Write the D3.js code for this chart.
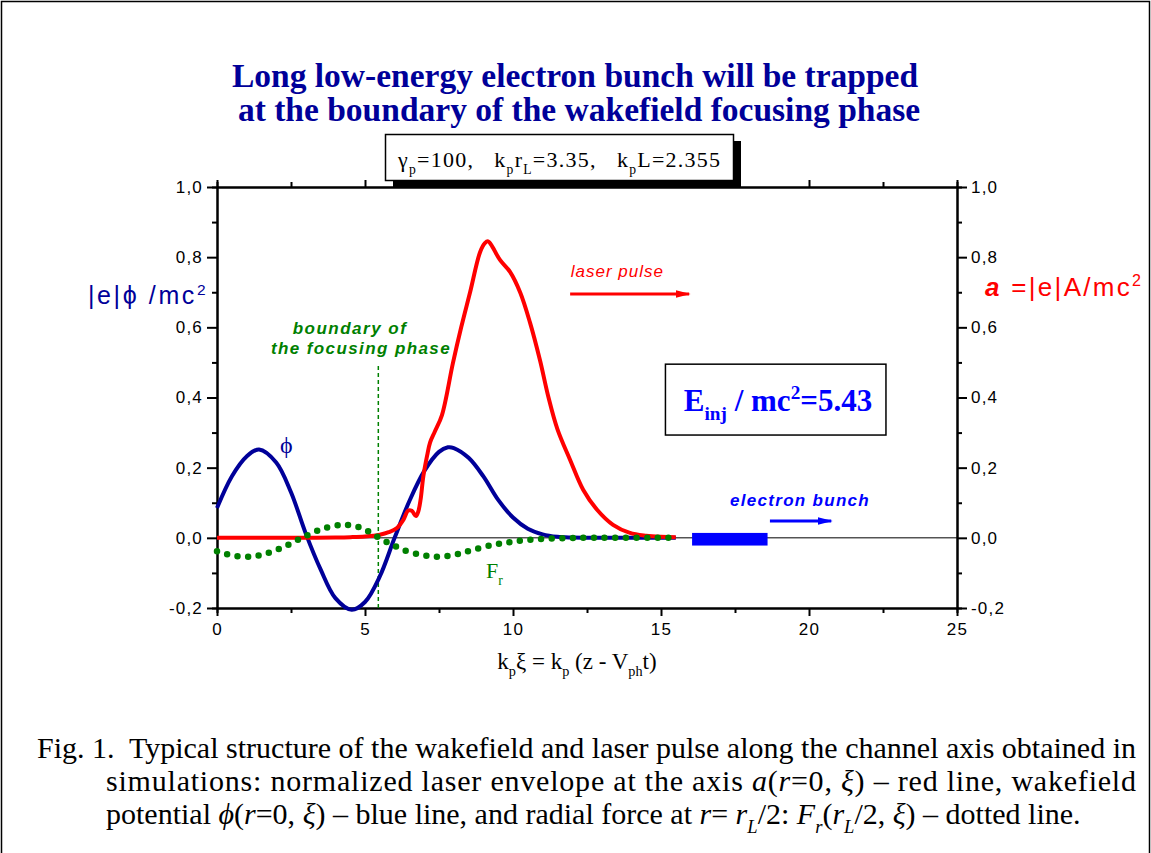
<!DOCTYPE html>
<html>
    <head>
        <meta charset="utf-8">
        <title>Wakefield focusing phase</title>
        <script src="https://d3js.org/d3.v7.min.js"></script>
        <style>
            body { margin:0; background:white; }
            svg { display:block; }
            .axis path, .axis line { stroke:black; stroke-width:2; }
            .axis text { font-family:"Liberation Sans", Arial, sans-serif; font-size:17px; letter-spacing:1.2px; fill:black; }
        </style>
    </head>
    <body>
        <svg id="chart" width="1151" height="853"></svg>
    </body>
    <script>

        // values
        const phiX   = [0, 0.5, 1.0, 1.42, 2.0, 2.5, 3.0, 3.5, 4.0, 4.55, 5.0, 5.5, 6.0, 6.5, 7.0, 7.5, 7.8, 8.0, 8.5, 9.0, 9.5, 10.0, 10.5, 11.0, 11.5, 12.0, 13.0, 14.0, 15.5];
        const phiVal = [0.085, 0.175, 0.232, 0.252, 0.215, 0.13, 0.012, -0.09, -0.172, -0.205, -0.183, -0.11, 0.0, 0.105, 0.19, 0.245, 0.258, 0.256, 0.228, 0.175, 0.108, 0.058, 0.026, 0.01, 0.003, 0.001, 0, 0, 0];

        const aX   = [0, 1, 2, 3, 4, 4.5, 5.0, 5.5, 5.8, 6.08, 6.3, 6.46, 6.58, 6.72, 6.8, 6.88, 6.97, 7.1, 7.2, 7.36, 7.6, 7.97, 8.25, 8.55, 8.89, 9.05, 9.16, 9.3, 9.56, 9.9, 10.24, 10.57, 10.91, 11.2, 11.5, 11.93, 12.37, 12.84, 13.38, 13.95, 14.5, 15.0, 15.5];
        const aVal = [0, 0, 0, 0, 0.001, 0.002, 0.004, 0.009, 0.016, 0.028, 0.052, 0.078, 0.077, 0.062, 0.075, 0.11, 0.175, 0.235, 0.272, 0.303, 0.35, 0.498, 0.6, 0.7, 0.815, 0.84, 0.845, 0.83, 0.792, 0.758, 0.7, 0.615, 0.507, 0.4, 0.31, 0.222, 0.137, 0.08, 0.037, 0.014, 0.006, 0.003, 0.002];

        const frX   = [0, 0.5, 1.08, 1.6, 2.2, 2.87, 3.5, 4.0, 4.32, 4.7, 5.07, 5.4, 5.78, 6.1, 6.46, 7.0, 7.53, 8.1, 8.65, 9.33, 10.0, 10.8, 11.7, 12.5, 15.5];
        const frVal = [-0.038, -0.05, -0.054, -0.046, -0.028, 0.0, 0.024, 0.035, 0.037, 0.033, 0.02, 0.004, -0.014, -0.027, -0.039, -0.05, -0.054, -0.047, -0.034, -0.02, -0.011, -0.004, -0.001, 0, 0];

        const xTicks = [0, 5, 10, 15, 20, 25];
        const xMinor = [2.5, 7.5, 12.5, 17.5, 22.5];
        const yTicks = [-0.2, 0, 0.2, 0.4, 0.6, 0.8, 1.0];
        const yMinor = [-0.1, 0.1, 0.3, 0.5, 0.7, 0.9];

        const boundaryX = 5.45;          // boundary of focusing phase
        const bunch = [16.05, 18.6];     // electron bunch extent
        const bunchY = [0.014, -0.022];
        const Einj = '5.43';

        const svg = d3.select('#chart');
        const x = d3.scaleLinear().domain([0, 25]).range([217, 957]);
        const y = d3.scaleLinear().domain([-0.2, 1.0]).range([608, 187]);

        const navy = '#000099', green = '#008000', red = '#ff0000', blue = '#0000ff';
        const serif = '"Liberation Serif", "Times New Roman", serif';
        const sans = '"Liberation Sans", Arial, sans-serif';

        // page frame
        svg.append('rect').attr('x', 1.5).attr('y', 1.5).attr('width', 1148).attr('height', 870)
            .style('fill', 'none').style('stroke', 'black').style('stroke-width', 1.5);

        // text with sub/superscripts and italics
        function rich(x0, y0, size, parts, opts) {
            const t = svg.append('text').attr('x', x0).attr('y', y0)
                .style('font-family', opts.font || serif).style('font-size', size + 'px')
                .style('fill', opts.fill || 'black')
                .style('font-weight', opts.bold ? 'bold' : 'normal')
                .style('white-space', 'pre')
                .attr('text-anchor', opts.anchor || 'start');
            if (opts.spacing) t.style('letter-spacing', opts.spacing + 'px');
            if (opts.length) t.attr('textLength', opts.length).attr('lengthAdjust', 'spacing');
            let shift = 0;
            parts.forEach(p => {
                if (typeof p === 'string') p = {t: p};
                const target = p.sub ? size * 0.3 : p.sup ? -size * 0.38 : 0;
                const s = t.append('tspan').attr('dy', target - shift).text(p.t);
                if (p.sub || p.sup) s.style('font-size', (size * 0.62) + 'px');
                if (p.it) s.style('font-style', 'italic');
                if (p.b) s.style('font-weight', 'bold');
                shift = target;
            });
            return t;
        }

        function label(x0, y0, txt, color, bold, spacing, anchor) {
            svg.append('text').attr('x', x0).attr('y', y0).attr('text-anchor', anchor || 'start')
                .style('font-family', sans).style('font-style', 'italic')
                .style('font-weight', bold ? 'bold' : 'normal').style('font-size', '17px')
                .style('letter-spacing', spacing + 'px').style('fill', color).text(txt);
        }

        // title
        svg.append('text').attr('x', 575).attr('y', 87).attr('text-anchor', 'middle')
            .style('font-family', serif).style('font-weight', 'bold').style('font-size', '33.5px').style('fill', navy)
            .text('Long low-energy electron bunch will be trapped');
        svg.append('text').attr('x', 579).attr('y', 121).attr('text-anchor', 'middle')
            .style('font-family', serif).style('font-weight', 'bold').style('font-size', '33.5px').style('fill', navy)
            .text('at the boundary of the wakefield focusing phase');

        // axes
        const fmt = v => (v < 0 ? '-' : '') + d3.format('.1f')(Math.abs(v)).replace('.', ',');

        svg.append('g').attr('class', 'axis').attr('transform', `translate(0,${y(-0.2)})`)
            .call(d3.axisBottom(x).tickValues(xTicks).tickSize(8).tickSizeOuter(0).tickPadding(7));
        svg.append('g').attr('class', 'axis').attr('transform', `translate(0,${y(-0.2)})`)
            .call(d3.axisBottom(x).tickValues(xMinor).tickSize(5).tickFormat(''));
        svg.append('g').attr('class', 'axis').attr('transform', `translate(0,${y(1.0)})`)
            .call(d3.axisBottom(x).tickValues(xTicks).tickSize(-7).tickSizeOuter(0).tickFormat(''));
        svg.append('g').attr('class', 'axis').attr('transform', `translate(0,${y(1.0)})`)
            .call(d3.axisBottom(x).tickValues(xMinor).tickSize(-5).tickFormat(''));

        svg.append('g').attr('class', 'axis').attr('transform', `translate(${x(0)},0)`)
            .call(d3.axisLeft(y).tickValues(yTicks).tickSize(10).tickSizeOuter(0).tickPadding(4).tickFormat(fmt));
        svg.append('g').attr('class', 'axis').attr('transform', `translate(${x(0)},0)`)
            .call(d3.axisLeft(y).tickValues(yMinor).tickSize(5).tickFormat(''));
        svg.append('g').attr('class', 'axis').attr('transform', `translate(${x(25)},0)`)
            .call(d3.axisRight(y).tickValues(yTicks).tickSize(10).tickSizeOuter(0).tickPadding(4).tickFormat(fmt));
        svg.append('g').attr('class', 'axis').attr('transform', `translate(${x(25)},0)`)
            .call(d3.axisRight(y).tickValues(yMinor).tickSize(5).tickFormat(''));

        // zero line
        svg.append('line').attr('x1', x(0)).attr('x2', x(25)).attr('y1', y(0)).attr('y2', y(0))
            .style('stroke', 'black').style('stroke-width', 1);

        // parameter box with shadow
        svg.append('rect').attr('x', 393).attr('y', 141).attr('width', 348).attr('height', 46).style('fill', 'black');
        svg.append('rect').attr('x', 385.5).attr('y', 134.5).attr('width', 348).attr('height', 46)
            .style('fill', 'white').style('stroke', 'black').style('stroke-width', 1.5);
        rich(398, 167, 22, ['\u03b3', {t: 'p', sub: true}, '=100,   k', {t: 'p', sub: true}, 'r', {t: 'L', sub: true},
            '=3.35,   k', {t: 'p', sub: true}, 'L=2.355'], {length: 322});

        // axis titles
        rich(88, 304, 25, ['|e|\u03d5 /mc', {t: '2', sup: true}], {font: sans, fill: navy, spacing: 2.6});
        rich(985, 296, 26, [{t: 'a', it: true, b: true}, ' =|e|A/mc', {t: '2', sup: true}], {font: sans, fill: red, spacing: 2.3});
        rich(577, 669, 23, ['k', {t: 'p', sub: true}, '\u03be = k', {t: 'p', sub: true}, ' (z - V', {t: 'ph', sub: true}, 't)'],
            {anchor: 'middle'});

        // boundary line
        svg.append('line').attr('x1', x(boundaryX)).attr('x2', x(boundaryX)).attr('y1', y(0.49)).attr('y2', y(-0.2))
            .style('stroke', green).style('stroke-width', 1.5).style('stroke-dasharray', '4,3');

        // electron bunch
        svg.append('rect').attr('x', x(bunch[0])).attr('y', y(bunchY[0]))
            .attr('width', x(bunch[1]) - x(bunch[0])).attr('height', y(bunchY[1]) - y(bunchY[0]))
            .style('fill', blue);

        // curves
        const line = d3.line().x(d => x(d[0])).y(d => y(d[1])).curve(d3.curveCatmullRom.alpha(0.5));
        svg.append('path').datum(d3.zip(phiX, phiVal)).attr('d', line)
            .style('fill', 'none').style('stroke', navy).style('stroke-width', 4);
        svg.append('path').datum(d3.zip(aX, aVal)).attr('d', line)
            .style('fill', 'none').style('stroke', red).style('stroke-width', 4);
        svg.append('path').datum(d3.zip(frX, frVal)).attr('d', line)
            .style('fill', 'none').style('stroke', green).style('stroke-width', 6.5)
            .style('stroke-linecap', 'round').style('stroke-dasharray', '0,10.6');

        // arrows
        const defs = svg.append('defs');
        [['arrRed', red], ['arrBlue', blue]].forEach(([id, c]) => {
            defs.append('marker').attr('id', id).attr('viewBox', '0 0 10 10').attr('refX', 9).attr('refY', 5)
                .attr('markerWidth', 5).attr('markerHeight', 2.6).attr('orient', 'auto').attr('markerUnits', 'strokeWidth')
                .attr('preserveAspectRatio', 'none')
                .append('path').attr('d', 'M0,0 L10,5 L0,10 z').style('fill', c);
        });
        svg.append('line').attr('x1', x(11.93)).attr('x2', x(15.95)).attr('y1', y(0.695)).attr('y2', y(0.695))
            .style('stroke', red).style('stroke-width', 3).attr('marker-end', 'url(#arrRed)');
        svg.append('line').attr('x1', x(18.68)).attr('x2', x(20.75)).attr('y1', y(0.048)).attr('y2', y(0.048))
            .style('stroke', blue).style('stroke-width', 3).attr('marker-end', 'url(#arrBlue)');

        // annotations
        label(x(11.95), 277, 'laser pulse', red, false, 1.0);
        label(800, 506, 'electron bunch', blue, true, 1.3, 'middle');
        label(350, 334, 'boundary of', green, true, 1.5, 'middle');
        label(361, 354, 'the focusing phase', green, true, 1.4, 'middle');

        rich(280, 453, 24, ['\u03d5'], {fill: navy});
        rich(486, 578, 22, ['F', {t: 'r', sub: true}], {fill: green});

        // E_inj box
        svg.append('rect').attr('x', x(15.15)).attr('y', y(0.495)).attr('width', x(22.6) - x(15.15)).attr('height', y(0.293) - y(0.495))
            .style('fill', 'white').style('stroke', 'black').style('stroke-width', 1.5);
        rich(778, 411, 31, ['E', {t: 'inj', sub: true}, ' / mc', {t: '2', sup: true}, '=' + Einj], {anchor: 'middle', bold: true, fill: blue});

        // caption
        rich(37, 758, 30, ['Fig. 1.  Typical structure of the wakefield and laser pulse along the channel axis obtained in'], {length: 1099});
        rich(106, 791, 30, ['simulations: normalized laser envelope at the axis ', {t: 'a', it: true}, '(', {t: 'r', it: true}, '=0, ',
            {t: '\u03be', it: true}, ') \u2013 red line, wakefield'], {length: 1030});
        rich(106, 824, 30, ['potential ', {t: '\u03d5', it: true}, '(', {t: 'r', it: true}, '=0, ', {t: '\u03be', it: true},
            ') \u2013 blue line, and radial force at ', {t: 'r', it: true}, '= ', {t: 'r', it: true}, {t: 'L', it: true, sub: true},
            '/2: ', {t: 'F', it: true}, {t: 'r', it: true, sub: true}, '(', {t: 'r', it: true}, {t: 'L', it: true, sub: true},
            '/2, ', {t: '\u03be', it: true}, ') \u2013 dotted line.'], {});

    </script>
</html>
